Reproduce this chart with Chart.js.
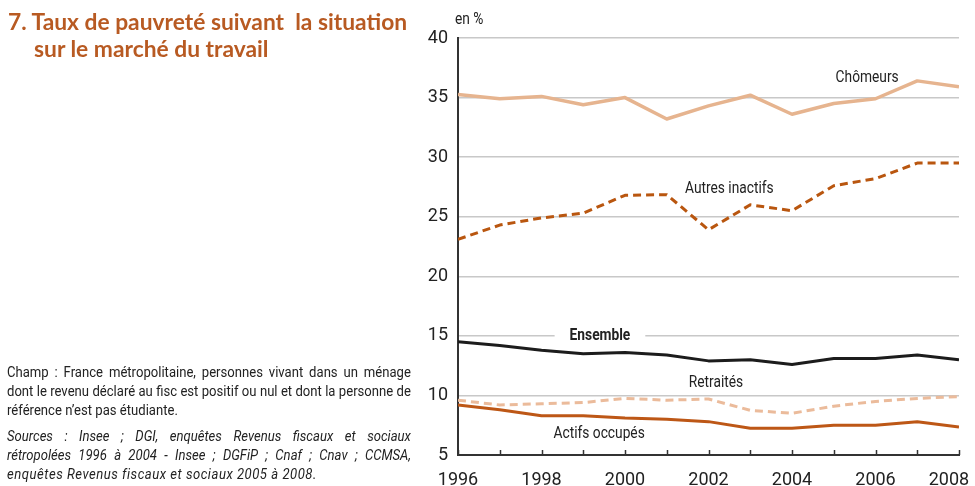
<!DOCTYPE html>
<html lang="fr">
<head>
<meta charset="UTF-8" />
<title>Taux de pauvreté suivant la situation sur le marché du travail</title>
<script src="https://cdn.jsdelivr.net/npm/chart.js"></script>
<style>
  html, body { margin: 0; padding: 0; background: #fff; }
  body { width: 975px; height: 486px; position: relative; overflow: hidden;
         font-family: Roboto, sans-serif; }
  #chart { position: absolute; left: 0; top: 0; }
  .title { position: absolute; left: 8px; top: 8px; color: #b85a22;
           font-family: Lato, "Open Sans", sans-serif; font-weight: bold;
           font-size: 22.8px; line-height: 27px; }
  .title .l2 { padding-left: 26px; }
  .note { position: absolute; left: 7px; top: 363px; width: 478px; color: #222;
          font-size: 15.5px; line-height: 19px;
          transform: scaleX(0.845); transform-origin: 0 0; }
  .note div { text-align: justify; text-align-last: justify; white-space: nowrap; }
  .note div.last { text-align-last: left; }
  .note .src { font-style: italic; }
  .note .src.last { letter-spacing: 0.6px; }
  .note .gap { height: 7px; }
</style>
</head>
<body>
<canvas id="chart" width="975" height="486"></canvas>

<div class="title">
  <div>7. Taux de pauvreté suivant&nbsp; la situation</div>
  <div class="l2">sur le marché du travail</div>
</div>

<div class="note">
  <div>Champ : France métropolitaine, personnes vivant dans un ménage</div>
  <div>dont le revenu déclaré au fisc est positif ou nul et dont la personne de</div>
  <div class="last">référence n’est pas étudiante.</div>
  <div class="gap"></div>
  <div class="src">Sources : Insee ; DGI, enquêtes Revenus fiscaux et sociaux</div>
  <div class="src">rétropolées 1996 à 2004 - Insee ; DGFiP ; Cnaf ; Cnav ; CCMSA,</div>
  <div class="src last">enquêtes Revenus fiscaux et sociaux 2005 à 2008.</div>
</div>

<script>
// poverty rates, in %
const years = [1996, 1997, 1998, 1999, 2000, 2001, 2002, 2003, 2004, 2005, 2006, 2007, 2008];
const chomeurs = [35.25, 34.9, 35.1, 34.4, 35.0, 33.2, 34.3, 35.2, 33.6, 34.5, 34.9, 36.4, 35.9];
const autresInactifs = [23.1, 24.3, 24.9, 25.3, 26.8, 26.85, 23.9, 26.0, 25.5, 27.6, 28.2, 29.5, 29.5];
const ensemble = [14.5, 14.2, 13.8, 13.5, 13.6, 13.4, 12.9, 13.0, 12.6, 13.1, 13.1, 13.4, 13.0];
const retraites = [9.6, 9.2, 9.3, 9.4, 9.75, 9.6, 9.7, 8.75, 8.5, 9.1, 9.5, 9.75, 9.9];
const actifsOccupes = [9.2, 8.8, 8.3, 8.3, 8.1, 8.0, 7.8, 7.25, 7.25, 7.5, 7.5, 7.8, 7.35];
const yTicks = [5, 10, 15, 20, 25, 30, 35, 40];

// series labels written on the chart: [text, year, value, bold]
const seriesLabels = [
  ['Chômeurs', 2005.8, 36.67, false],
  ['Autres inactifs', 2002.5, 27.36, false],
  ['Ensemble', 1999.4, 15, true],
  ['Retraités', 2002.18, 11.03, false],
  ['Actifs occupés', 1999.38, 6.8, false]
];

const FONT = 'Roboto, sans-serif';
const pts = arr => arr.map((v, i) => ({ x: years[i], y: v }));

// small year ticks pointing up from the x axis, then series labels
const decor = {
  id: 'decor',
  afterDatasetsDraw(chart) {
    const { ctx, scales: { x, y } } = chart;
    ctx.save();
    ctx.strokeStyle = '#333';
    ctx.lineWidth = 1.5;
    years.forEach(yr => {
      const px = Math.round(x.getPixelForValue(yr)) + 0.5;
      ctx.beginPath();
      ctx.moveTo(px, y.bottom);
      ctx.lineTo(px, y.bottom - 5);
      ctx.stroke();
    });
    ctx.textAlign = 'center';
    ctx.textBaseline = 'middle';
    seriesLabels.forEach(([txt, xv, yv, bold]) => {
      ctx.font = (bold ? 'bold ' : '') + '16px ' + FONT;
      const px = x.getPixelForValue(xv), py = y.getPixelForValue(yv);
      if (bold) {
        const w = ctx.measureText(txt).width * 0.86 + 30;
        ctx.fillStyle = '#fff';
        ctx.fillRect(px - w / 2, py - 4, w, 8);
      }
      ctx.save();
      ctx.translate(px, py);
      ctx.scale(0.86, 1);
      ctx.fillStyle = '#222';
      ctx.fillText(txt, 0, 0);
      ctx.restore();
    });
    ctx.save();
    ctx.translate(x.left - 3, 20);
    ctx.scale(0.86, 1);
    ctx.font = '16px ' + FONT;
    ctx.textAlign = 'left';
    ctx.fillStyle = '#222';
    ctx.fillText('en %', 0, 0);
    ctx.restore();
    ctx.restore();
  }
};

const line = (label, data, color, width, dash) => ({
  label, data: pts(data), borderColor: color, borderWidth: width,
  borderDash: dash || [], borderCapStyle: 'butt', borderJoinStyle: 'round',
  pointRadius: 0, tension: 0, fill: false
});

new Chart(document.getElementById('chart'), {
  type: 'line',
  data: {
    datasets: [
      line('Chômeurs', chomeurs, '#e6b48f', 3.5),
      line('Autres inactifs', autresInactifs, '#b9560f', 3, [8, 5]),
      line('Ensemble', ensemble, '#1c1c1c', 3),
      line('Retraités', retraites, '#ebbb9b', 3, [8, 5]),
      line('Actifs occupés', actifsOccupes, '#bd5716', 3)
    ]
  },
  options: {
    responsive: false,
    animation: false,
    layout: { padding: { top: 38, right: 16, left: 0, bottom: 0 } },
    plugins: { legend: { display: false }, tooltip: { enabled: false } },
    scales: {
      x: {
        type: 'linear', min: 1996, max: 2008,
        afterFit: s => { s.height = 31; s.paddingRight = 0; s.paddingLeft = 0; },
        ticks: { stepSize: 2, padding: 7, color: '#222', font: { family: FONT, size: 18 },
                 // last label nudged left so it stays inside the page
                 callback: v => v === 2008 ? '2008\u2007\u2007' : String(v) },
        grid: { display: false },
        border: { color: '#333', width: 2 }
      },
      y: {
        min: 5, max: 40,
        afterFit: s => { s.width = 458; },
        afterBuildTicks: s => { s.ticks = yTicks.map(v => ({ value: v })); },
        ticks: { padding: 10, color: '#222', font: { family: FONT, size: 18 } },
        grid: { color: ctx => ctx.tick.value === 5 ? 'rgba(0,0,0,0)' : '#c8c8c8',
                lineWidth: 1.5, drawTicks: false },
        border: { color: '#333', width: 2 }
      }
    }
  },
  plugins: [decor]
});
</script>
</body>
</html>
